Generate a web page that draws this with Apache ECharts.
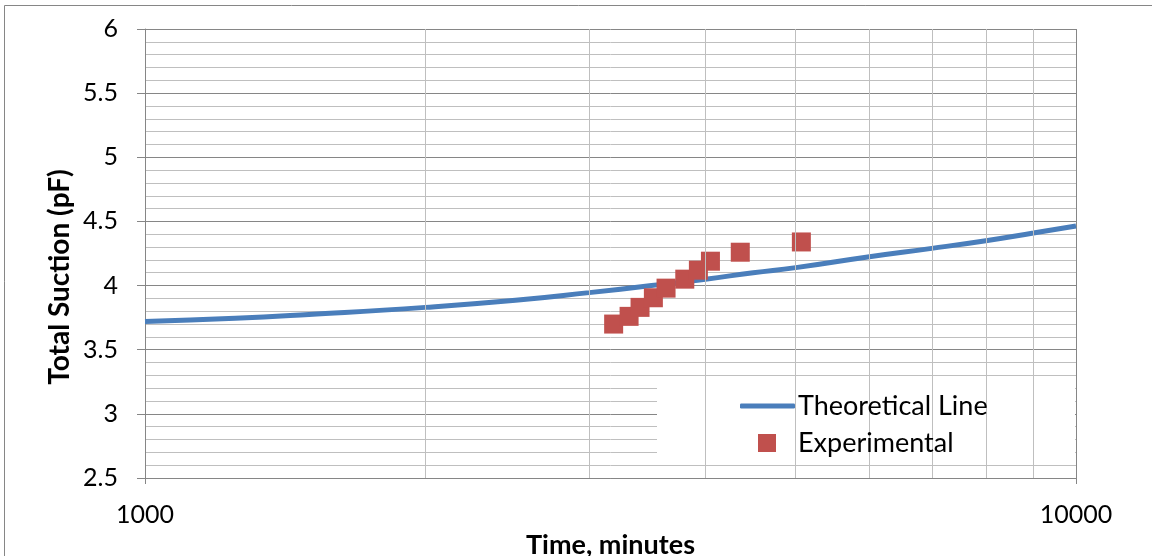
<!DOCTYPE html>
<html>
<head>
<meta charset="utf-8">
<script src="https://cdn.jsdelivr.net/npm/echarts@6/dist/echarts.min.js"></script>
<style>
html,body{margin:0;padding:0;background:#fff;}
#chart{width:1152px;height:556px;}
</style>
</head>
<body>
<div id="chart"></div>
<script>
// Data
const theoryTime = [1000, 1250, 1500, 2000, 2500, 3000, 3500, 4000, 4500, 5000, 6000, 7000, 8000, 9000, 10000];
const theorySuction = [3.72, 3.745, 3.775, 3.83, 3.885, 3.945, 4.00, 4.05, 4.10, 4.14, 4.225, 4.29, 4.35, 4.41, 4.465];
const expTime = [3187, 3311, 3402, 3516, 3628, 3800, 3930, 4049, 4359, 5070];
const expSuction = [3.70, 3.76, 3.83, 3.905, 3.98, 4.05, 4.12, 4.19, 4.26, 4.34];
const minorTimes = [2000, 3000, 4000, 5000, 6000, 7000, 8000, 9000];
const xLabel = 'Time, minutes';
const yLabel = 'Total Suction (pF)';
const seriesNames = ['Theoretical Line', 'Experimental'];

const FONT = 'Lato';
const BLUE = '#4a7ebb';
const RED = '#c0504d';
const chart = echarts.init(document.getElementById('chart'), null, {renderer: 'canvas'});

const option = {
  animation: false,
  backgroundColor: '#ffffff',
  grid: {left: 145, top: 29, right: 76, bottom: 78, containLabel: false, outerBoundsMode: 'none'},
  xAxis: {
    type: 'log', logBase: 10, min: 1000, max: 10000,
    name: xLabel, nameLocation: 'middle', nameGap: 51,
    nameTextStyle: {fontFamily: FONT, fontWeight: 'bold', fontSize: 27, color: '#000'},
    axisLine: {show: true, lineStyle: {color: '#868686', width: 1}},
    axisTick: {show: true, length: 6, inside: false, lineStyle: {color: '#868686'}},
    axisLabel: {fontFamily: FONT, fontSize: 25, color: '#000', margin: 24, formatter: v => String(v)},
    splitLine: {show: true, lineStyle: {color: '#868686', width: 1}},
    minorTick: {show: false}, minorSplitLine: {show: false}
  },
  yAxis: {
    type: 'value', min: 2.5, max: 6, interval: 0.5,
    axisLine: {show: true, lineStyle: {color: '#868686', width: 1}},
    axisTick: {show: true, length: 8, inside: false, lineStyle: {color: '#868686'}},
    axisLabel: {fontFamily: FONT, fontSize: 25, color: '#000', margin: 27},
    splitLine: {show: true, lineStyle: {color: '#868686', width: 1}},
    minorTick: {show: false, splitNumber: 5},
    minorSplitLine: {show: true, lineStyle: {color: '#bfbfbf', width: 1}}
  },
  legend: [
    {
      data: [{name: seriesNames[0], icon: 'roundRect', itemStyle: {color: BLUE}}],
      left: 740, top: 391, orient: 'vertical', z: 10,
      itemWidth: 55, itemHeight: 5, padding: 0,
      textStyle: {fontFamily: FONT, fontSize: 27, color: '#000', lineHeight: 30, padding: [0, 0, 0, -2]}
    },
    {
      data: [{name: seriesNames[1], icon: 'rect'}],
      left: 758, top: 428, orient: 'vertical', z: 10,
      itemWidth: 18, itemHeight: 18, padding: 0,
      textStyle: {fontFamily: FONT, fontSize: 27, color: '#000', lineHeight: 30, padding: [0, 0, 0, 17]}
    }
  ],
  graphic: [
    {type: 'rect', z: 5, shape: {x: 657, y: 388, width: 418, height: 75}, style: {fill: '#ffffff'}, silent: true},
    {type: 'rect', z: 0, shape: {x: 4.5, y: 5.5, width: 1300, height: 700}, style: {fill: 'none', stroke: '#868686', lineWidth: 1}, silent: true},
    {type: 'text', z: 10, x: 60, y: 277, rotation: Math.PI / 2,
      style: {text: yLabel, fontFamily: FONT, fontWeight: 'bold', fontSize: 28, fill: '#000', align: 'center', verticalAlign: 'middle'}}
  ],
  series: [
    {
      name: 'minor-grid', type: 'line', data: [], z: 1, silent: true,
      markLine: {
        silent: true, symbol: 'none', animation: false,
        label: {show: false},
        lineStyle: {color: '#bfbfbf', width: 1, type: 'solid'},
        emphasis: {disabled: true},
        data: minorTimes.map(t => ({xAxis: t}))
      }
    },
    {
      name: seriesNames[0], type: 'line', smooth: true, symbol: 'none', showSymbol: false, z: 3,
      lineStyle: {color: BLUE, width: 5},
      itemStyle: {color: BLUE},
      data: theoryTime.map((t, i) => [t, theorySuction[i]])
    },
    {
      name: seriesNames[1], type: 'scatter', symbol: 'rect', symbolSize: 19, z: 4,
      itemStyle: {color: RED, opacity: 1},
      data: expTime.map((t, i) => [t, expSuction[i]])
    }
  ]
};
chart.setOption(option);
</script>
</body>
</html>
